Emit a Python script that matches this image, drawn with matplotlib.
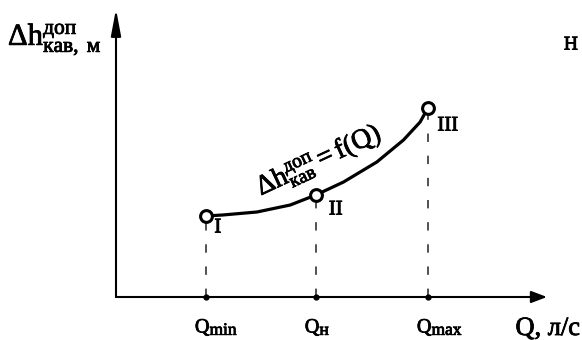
import matplotlib.pyplot as plt
import matplotlib.patheffects as pe

plt.rcParams['font.family'] = ['Liberation Serif', 'DejaVu Serif']
plt.rcParams['mathtext.fontset'] = 'custom'
plt.rcParams['mathtext.rm'] = 'Liberation Serif'
plt.rcParams['mathtext.it'] = 'Liberation Serif:italic'

# characteristic points (Q in relative units, h in relative units)
point_names = ['I', 'II', 'III']
q_points = [0.81, 1.80, 2.81]
h_points = [0.81, 1.02, 1.89]
q_subs = ['min', 'н', 'max']

# curve
curve_q = [0.81, 0.96, 1.27, 1.57, 1.80, 2.05, 2.35, 2.59, 2.74, 2.81]
curve_h = [0.81, 0.82, 0.85, 0.92, 1.02, 1.15, 1.35, 1.57, 1.75, 1.89]

heavy = [pe.withStroke(linewidth=0.6, foreground='black')]

fig = plt.figure(figsize=(5.82, 3.40), dpi=100)
ax = fig.add_axes([116 / 582, 43 / 340, 431 / 582, 288 / 340])
ax.set_xlim(0, 3.883)
ax.set_ylim(0, 2.88)
ax.axis('off')

# axes with arrows
ax.annotate('', xy=(1, 0), xytext=(0, 0), xycoords='axes fraction',
            arrowprops=dict(arrowstyle='-|>,head_length=0.95,head_width=0.36',
                            lw=1.5, color='black', shrinkA=0, shrinkB=0,
                            mutation_scale=10), annotation_clip=False)
ax.annotate('', xy=(0, 1), xytext=(0, 0), xycoords='axes fraction',
            arrowprops=dict(arrowstyle='-|>,head_length=1.6,head_width=0.3',
                            lw=1.5, color='black', shrinkA=0, shrinkB=0,
                            mutation_scale=10), annotation_clip=False)

# dashed drops
ax.vlines(q_points, 0, h_points, colors='#222222', lw=1.1,
          linestyles=(0, (5.5, 9)), zorder=1)
ax.plot(q_points, [0] * 3, 'o', color='black', ms=3.5, zorder=3, clip_on=False)

# curve and points
ax.plot(curve_q, curve_h, color='black', lw=2.3, zorder=2,
        solid_capstyle='round', solid_joinstyle='round')
ax.plot(q_points, h_points, 'o', mfc='white', mec='black', ms=8.5, mew=2.2,
        zorder=4)

offsets = [(8.6, -8.6), (14.4, -10.8), (14.4, -13)]
for name, q, h, off in zip(point_names, q_points, h_points, offsets):
    ax.annotate(name, xy=(q, h), xytext=off, textcoords='offset points',
                ha='center', va='center', fontsize=15, path_effects=heavy)

# tick labels Q with subscripts
for q, s in zip(q_points, q_subs):
    t = ax.annotate('Q', xy=(q, 0), xytext=(-7.9, -25.5),
                    textcoords='offset points', ha='left', va='baseline',
                    fontsize=14.5, path_effects=heavy)
    ax.annotate(s, xy=(1, 0), xycoords=t, xytext=(0, -1.0),
                textcoords='offset points', ha='left', va='bottom',
                fontsize=12.5, path_effects=heavy)

# curve label
ax.text(1.83, 1.36, r'$\mathrm{Δh}_{\mathrm{кав}}^{\mathrm{доп}} = \mathrm{f(Q)}$',
        rotation=25, rotation_mode='anchor', ha='center', va='center',
        fontsize=20, path_effects=heavy)

# axis labels
fig.text(8 / 582, 1 - 45 / 340,
         r'$\mathrm{Δh}_{\mathrm{кав},\ \mathrm{м}}^{\mathrm{доп}}$',
         ha='left', va='baseline', fontsize=22, path_effects=heavy)
fig.text(580 / 582, 1 - 335 / 340, 'Q, л/с', ha='right', va='baseline',
         fontsize=19, path_effects=heavy)
fig.text(571 / 582, 1 - 45 / 340, 'Н', ha='center', va='center', fontsize=14,
         path_effects=heavy)

fig.savefig('out.png', dpi=100)
